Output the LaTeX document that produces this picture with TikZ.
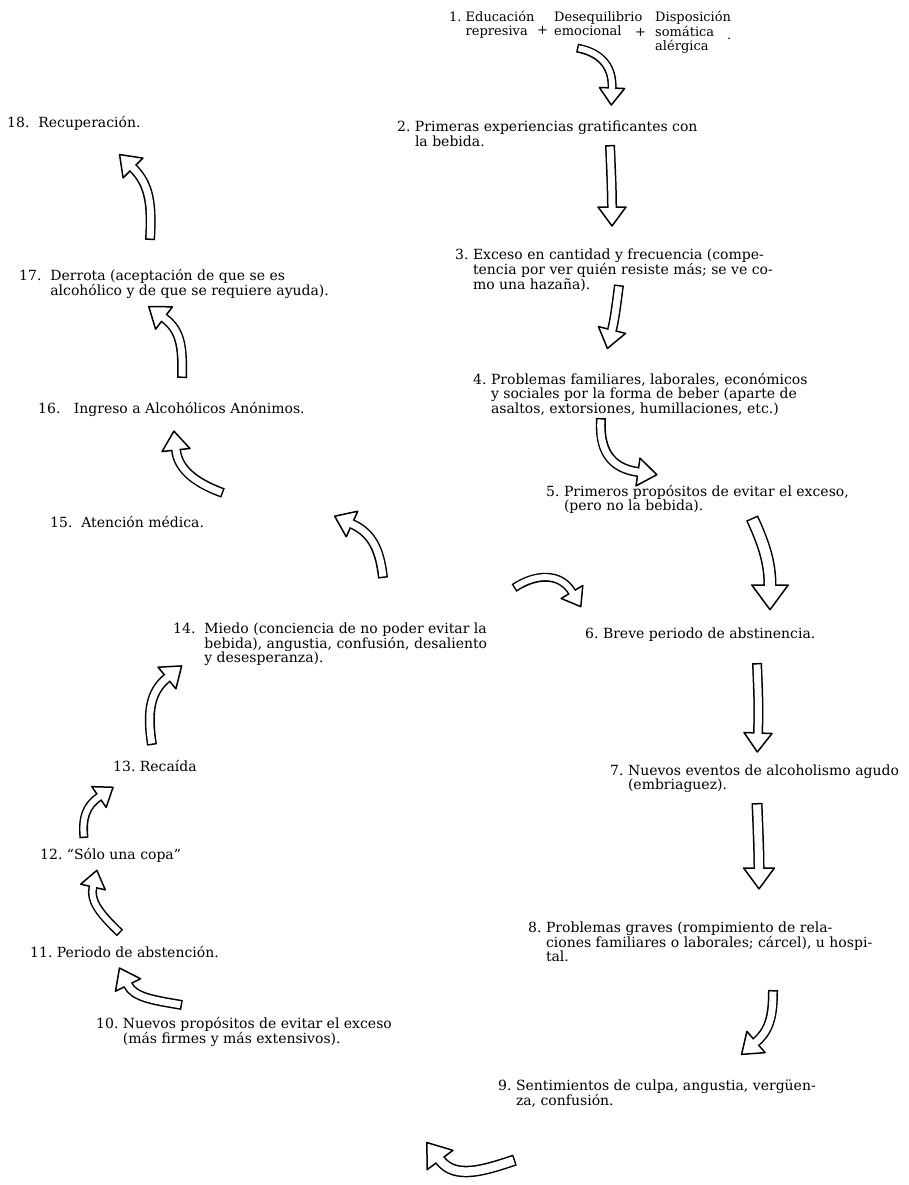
\documentclass[tikz,border=0pt]{standalone}
\usepackage{fontspec}
\setmainfont{DejaVu Serif}

% number followed by a left-aligned block of lines
\newcommand{\numtext}[2]{#1\ \begin{tabular}[t]{@{}l@{}}#2\end{tabular}}

% hand-drawn block arrow: [size]{tail}{control 1}{control 2}{head base}
\newcommand{\bigarrow}[5][1]{%
  \coordinate (ha) at #4;
  \coordinate (hb) at #5;
  \pgfmathanglebetweenpoints{\pgfpointanchor{ha}{center}}{\pgfpointanchor{hb}{center}}%
  \edef\hdir{\pgfmathresult}%
  \draw[line width=#1*10pt] #2 .. controls #3 and #4 .. (hb);
  \draw[arrowline, fill=white]
    ([shift={(\hdir+90:#1*14pt)}]hb) -- ([shift={(\hdir:#1*19pt)}]hb)
    -- ([shift={(\hdir-90:#1*14pt)}]hb) -- cycle;
  \draw[white, line width=#1*10pt-3pt, shorten <=1.5pt]
    #2 .. controls #3 and #4 .. (hb) -- ([shift={(\hdir:3pt)}]hb);
}

\tikzset{
  itemtxt/.style={anchor=base west, inner sep=0pt,
    font=\fontsize{14}{13.3}\selectfont},
  toptxt/.style={itemtxt, font=\fontsize{13}{13.3}\selectfont},
  arrowline/.style={line width=1.5pt, line join=round}
}

\begin{document}
\begin{tikzpicture}[x=1pt,y=-1pt]
  \useasboundingbox (0,0) rectangle (908,1185);

  \node[toptxt] (n1a) at (449,22) {\numtext{1.}{Educación\\represiva}};
  \node[toptxt] (p1) at (537,35) {+};
  \node[toptxt] (n1b) at (554,22) {\begin{tabular}[t]{@{}l@{}}Desequilibrio\\emocional\end{tabular}};
  \node[toptxt] (p2) at (635,37) {+};
  \node[toptxt] (n1c) at (655,22) {\begin{tabular}[t]{@{}l@{}}Disposición\\somática\\alérgica\end{tabular}};
  \node[toptxt] (pt) at (727,40) {.};

  \node[itemtxt] (n2) at (397,132) {\numtext{2.}{Primeras experiencias gratificantes con\\la bebida.}};
  \node[itemtxt] (n3) at (455,259) {\numtext{3.}{Exceso en cantidad y frecuencia (compe-\\tencia por ver quién resiste más; se ve co-\\mo una hazaña).}};
  \node[itemtxt] (n4) at (473,384) {\numtext{4.}{Problemas familiares, laborales, económicos\\y sociales por la forma de beber (aparte de\\asaltos, extorsiones, humillaciones, etc.)}};
  \node[itemtxt] (n5) at (546,496) {\numtext{5.}{Primeros propósitos de evitar el exceso,\\(pero no la bebida).}};
  \node[itemtxt] (n6) at (585,638) {\numtext{6.}{Breve periodo de abstinencia.}};
  \node[itemtxt] (n7) at (610,775) {\numtext{7.}{Nuevos eventos de alcoholismo agudo\\(embriaguez).}};
  \node[itemtxt] (n8) at (528,932) {\numtext{8.}{Problemas graves (rompimiento de rela-\\ciones familiares o laborales; cárcel), u hospi-\\tal.}};
  \node[itemtxt] (n9) at (498,1090) {\numtext{9.}{Sentimientos de culpa, angustia, vergüen-\\za, confusión.}};
  \node[itemtxt] (n10) at (96,1028) {\numtext{10.}{Nuevos propósitos de evitar el exceso\\(más firmes y más extensivos).}};
  \node[itemtxt] (n11) at (30,957) {\numtext{11.}{Periodo de abstención.}};
  \node[itemtxt] (n12) at (40,859) {\numtext{12.}{“Sólo una copa”}};
  \node[itemtxt] (n13) at (113,771) {\numtext{13.}{Recaída}};
  \node[itemtxt] (n14) at (173,633) {\numtext{14.\ }{Miedo (conciencia de no poder evitar la\\bebida), angustia, confusión, desaliento\\y desesperanza).}};
  \node[itemtxt] (n15) at (50,527) {\numtext{15.\ }{Atención médica.}};
  \node[itemtxt] (n16) at (38,413) {\numtext{16.\ \ }{Ingreso a Alcohólicos Anónimos.}};
  \node[itemtxt] (n17) at (19,280) {\numtext{17.\ }{Derrota (aceptación de que se es\\alcohólico y de que se requiere ayuda).}};
  \node[itemtxt] (n18) at (7,128) {\numtext{18.\ }{Recuperación.}};

  \bigarrow[0.9]{(577,48)}{(598,52)}{(613,64)}{(612,88)}
  \bigarrow{(610,145)}{(611,170)}{(612,190)}{(612,207)}
  \bigarrow{(619,285)}{(617,300)}{(615,318)}{(612,330)}
  \bigarrow{(601,418)}{(599,450)}{(610,468)}{(638,472)}
  \bigarrow[1.3]{(752,518)}{(762,540)}{(770,560)}{(770,585)}
  \bigarrow{(757,663)}{(758,690)}{(759,705)}{(758,733)}
  \bigarrow[1.1]{(757,803)}{(758,830)}{(759,850)}{(759,868)}
  \bigarrow{(773,990)}{(773,1015)}{(770,1030)}{(756,1042)}
  \bigarrow[1.15]{(515,1160)}{(485,1170)}{(455,1180)}{(440,1160)}
  \bigarrow{(182,1005)}{(152,1000)}{(134,997)}{(128,985)}
  \bigarrow[0.9]{(120,933)}{(98,912)}{(90,900)}{(93,887)}
  \bigarrow[0.9]{(84,838)}{(82,818)}{(86,806)}{(99,797)}
  \bigarrow{(152,745)}{(147,712)}{(150,692)}{(167,678)}
  \bigarrow[0.9]{(514,588)}{(535,574)}{(560,572)}{(572,592)}
  \bigarrow{(383,578)}{(380,550)}{(372,533)}{(352,524)}
  \bigarrow{(223,493)}{(193,482)}{(178,468)}{(176,450)}
  \bigarrow{(182,378)}{(183,345)}{(180,330)}{(164,318)}
  \bigarrow{(150,240)}{(152,205)}{(150,185)}{(133,168)}
\end{tikzpicture}
\end{document}
